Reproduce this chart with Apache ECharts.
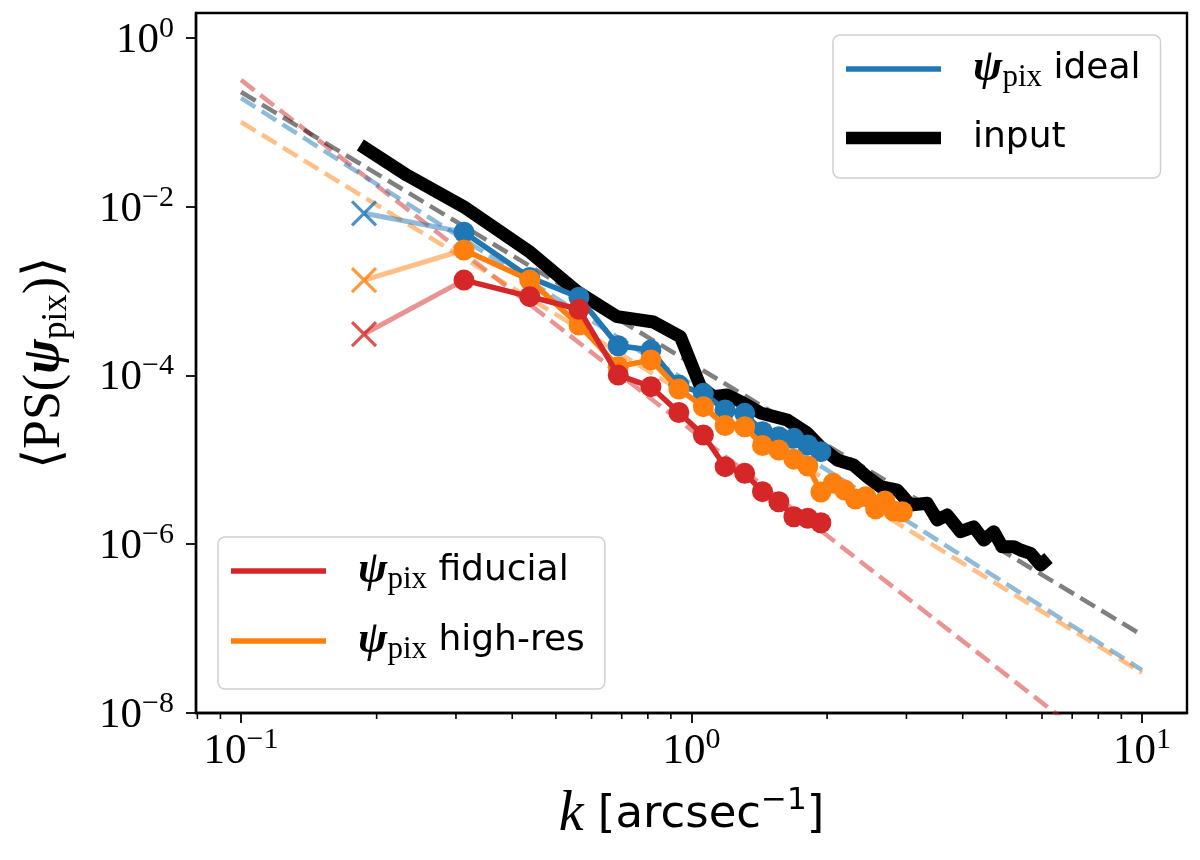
<!DOCTYPE html>
<html><head><meta charset="utf-8">
<script src="https://cdn.jsdelivr.net/npm/echarts@6/dist/echarts.min.js"></script>
<style>html,body{margin:0;padding:0;background:#fff}#c{width:1200px;height:860px}</style>
</head><body><div id="c"></div>
<script>
// ---- data ----
const kFirst = 0.1875;
const kBins = [0.3125, 0.4375, 0.5625, 0.6875, 0.8125, 0.9375, 1.0625, 1.1875, 1.3125, 1.4375, 1.5625, 1.6875, 1.8125, 1.9375];
const kHighres = [0.3125, 0.4375, 0.5625, 0.6875, 0.8125, 0.9375, 1.0625, 1.1875, 1.3125, 1.4375, 1.5625, 1.6875, 1.8125, 1.9375,
                  2.0625, 2.1875, 2.3125, 2.4375, 2.5625, 2.6875, 2.8125, 2.9375];
const psIdeal = [4.98e-3, 1.45e-3, 8.45e-4, 2.25e-4, 2.0e-4, 7.7e-5, 6.15e-5, 3.9e-5, 3.56e-5, 2.16e-5, 1.88e-5, 1.80e-5, 1.5e-5, 1.25e-5];
const psFiducial = [1.35e-3, 8.59e-4, 6.09e-4, 1.01e-4, 7.37e-5, 3.64e-5, 1.97e-5, 8.3e-6, 6.93e-6, 4.2e-6, 3.19e-6, 2.12e-6, 2.03e-6, 1.8e-6];
const psHighres = [3.07e-3, 1.35e-3, 3.97e-4, 1.27e-4, 1.53e-4, 6.9e-5, 4.27e-5, 2.55e-5, 2.47e-5, 1.48e-5, 1.31e-5, 1.02e-5, 8.45e-6, 4.16e-6,
                   5.27e-6, 4.39e-6, 3.44e-6, 3.66e-6, 2.62e-6, 3.26e-6, 2.48e-6, 2.43e-6];
const psFirstIdeal = 8.36e-3;
const psFirstHighres = 1.35e-3;
const psFirstFiducial = 3.1e-4;
const inputK = [0.184, 0.234, 0.312, 0.439, 0.557, 0.684, 0.823, 0.945, 1.047, 1.119, 1.200, 1.304, 1.423, 1.631, 1.806, 1.933,
                2.106, 2.289, 2.455, 2.628, 2.862, 3.063, 3.336, 3.511, 3.695, 3.955, 4.233, 4.455, 4.688, 4.895, 5.193, 5.374, 5.655, 5.953, 6.202];
const inputPS = [0.054, 0.0235, 0.010, 2.87e-3, 9.9e-4, 4.98e-4, 4.31e-4, 2.88e-4, 7.37e-5, 5.6e-5, 5.87e-5, 4.72e-5, 3.6e-5, 2.97e-5, 2.08e-5, 1.43e-5,
                 9.97e-6, 8.7e-6, 6.3e-6, 4.81e-6, 4.39e-6, 2.92e-6, 3.06e-6, 1.94e-6, 2.22e-6, 1.41e-6, 1.61e-6, 1.12e-6, 1.41e-6, 9.35e-7, 9.35e-7, 8.55e-7, 7.81e-7, 5.68e-7, 6.87e-7];
const fitK = [0.1, 10];
const fitInput = [0.229, 8.4e-8];
const fitIdeal = [0.194, 3.23e-8];
const fitHighres = [0.101, 3.0e-8];
const fitFiducial = [0.318, 1.59e-9];
const xTickExponents = [-1, 0, 1];
const yTickExponents = [-8, -6, -4, -2, 0];
const xMinorTicks = [0.08, 0.09, 0.2, 0.3, 0.4, 0.5, 0.6, 0.7, 0.8, 0.9, 2, 3, 4, 5, 6, 7, 8, 9];

// ---- styling ----
const SERIF = 'Liberation Serif';
const SANS = 'DejaVu Sans';
const BLUE = '#1f77b4', ORANGE = '#ff7f0e', RED = '#d62728';
const X_MIN = Math.pow(10, -1.1), X_MAX = Math.pow(10, 1.1);
const Y_MIN = 1e-8, Y_MAX = Math.pow(10, 0.296);

const zip = (xs, ys) => xs.map((x, i) => [x, ys[i]]);
const expLabel = (allowed) => (v) => {
  const e = Math.log10(v), n = Math.round(e);
  if (Math.abs(e - n) > 1e-6 || allowed.indexOf(n) < 0) return '';
  return '{b|10}{s|' + String(n).replace('-', '\u2212') + '}';
};
const tickRich = {
  b: {fontFamily: SERIF, fontSize: 43, color: '#000', lineHeight: 48, verticalAlign: 'bottom'},
  s: {fontFamily: SERIF, fontSize: 30, color: '#000', lineHeight: 28, verticalAlign: 'top'}
};
const legendRich = {
  g: {width: 27},
  psi: {fontFamily: SERIF, fontSize: 44, fontStyle: 'italic', fontWeight: 'bold', color: '#000', lineHeight: 48},
  sub: {fontFamily: SERIF, fontSize: 31, color: '#000', lineHeight: 18, verticalAlign: 'bottom'},
  t: {fontFamily: SANS, fontSize: 36, color: '#000', lineHeight: 48}
};
const legendFmt = (name) => name === 'input' ? '{g| }{t|input}' : '{g| }{psi|\u03c8}{sub|pix}{t| ' + name + '}';
const THIN = 'path://M0,0H100V6H0Z';
const THICK = 'path://M0,0H100V13H0Z';
const legendBase = {
  orient: 'vertical', itemWidth: 95, itemHeight: 13, itemGap: 22, selectedMode: false,
  backgroundColor: 'rgba(255,255,255,0.8)', borderColor: '#d0d0d0', borderWidth: 1.5, borderRadius: 7,
  padding: [10, 18, 22, 13], formatter: legendFmt,
  textStyle: {rich: legendRich, fontFamily: SANS, fontSize: 36, color: '#000'}
};

const fitLine = (data, color, opacity) => ({
  type: 'line', data: zip(fitK, data), showSymbol: false, symbol: 'none', silent: true, z: 1,
  lineStyle: {color: color, opacity: opacity, width: 4.5, type: [17, 7.5]}
});
const connector = (y0, y1, color) => ({
  type: 'line', data: [[kFirst, y0], [kBins[0], y1]], symbol: 'none', silent: true, z: 3,
  lineStyle: {color: color, opacity: 0.5, width: 5}
});
const cross = (y, color) => ({
  type: 'scatter', data: [[kFirst, y]], symbol: 'path://M0,0L10,10M10,0L0,10', symbolSize: 24, silent: true, z: 4,
  itemStyle: {color: 'rgba(0,0,0,0)', borderColor: color, borderWidth: 3.2}
});
const circles = (name, ks, ps, color, z) => ({
  name: name, type: 'line', data: zip(ks, ps), symbol: 'circle', symbolSize: 21, showAllSymbol: true, silent: true, z: z,
  lineStyle: {color: color, width: 5.5}, itemStyle: {color: color, borderWidth: 0}
});

const chart = echarts.init(document.getElementById('c'), null, {renderer: 'canvas'});
chart.setOption({
  animation: false,
  backgroundColor: '#fff',
  grid: {left: 196, right: 13, top: 13, bottom: 147, show: true, borderColor: '#000', borderWidth: 2.4, backgroundColor: 'transparent'},
  xAxis: {
    type: 'log', logBase: 10, min: X_MIN, max: X_MAX,
    axisLine: {show: true, lineStyle: {color: '#000', width: 2.4}},
    axisTick: {show: true, length: 10, lineStyle: {color: '#000', width: 1.8}},
    splitLine: {show: false}, minorTick: {show: false},
    axisLabel: {formatter: expLabel(xTickExponents), rich: tickRich, margin: 12, showMinLabel: false, showMaxLabel: false},
    name: '{i|k}{t| [arcsec}{s|\u22121}{t|]}', nameLocation: 'middle', nameGap: 72,
    nameTextStyle: {rich: {
      i: {fontFamily: SERIF, fontStyle: 'italic', fontSize: 56, color: '#000', lineHeight: 60},
      t: {fontFamily: SANS, fontSize: 45, color: '#000', lineHeight: 60},
      s: {fontFamily: SANS, fontSize: 31, color: '#000', lineHeight: 32, verticalAlign: 'top'}
    }}
  },
  yAxis: {
    type: 'log', logBase: 100, min: Y_MIN, max: Y_MAX,
    axisLine: {show: true, lineStyle: {color: '#000', width: 2.4}},
    axisTick: {show: true, length: 10, lineStyle: {color: '#000', width: 1.8}},
    splitLine: {show: false},
    axisLabel: {formatter: expLabel(yTickExponents), rich: tickRich, margin: 22, showMinLabel: true, showMaxLabel: false},
    name: '{t|\u27e8PS(}{psi|\u03c8}{sub|pix}{t|)\u27e9}', nameLocation: 'middle', nameGap: 122, nameRotate: 90,
    nameTextStyle: {rich: {
      t: {fontFamily: SERIF, fontSize: 52, color: '#000', lineHeight: 58},
      psi: {fontFamily: SERIF, fontStyle: 'italic', fontWeight: 'bold', fontSize: 52, color: '#000', lineHeight: 58},
      sub: {fontFamily: SERIF, fontSize: 35, color: '#000', lineHeight: 20, verticalAlign: 'bottom'}
    }}
  },
  legend: [
    Object.assign({}, legendBase, {left: 833, top: 35, itemGap: 27, padding: [12, 20, 22, 13], data: [
      {name: 'ideal', icon: THIN, itemStyle: {color: BLUE}},
      {name: 'input', icon: THICK, itemStyle: {color: '#000'}}
    ]}),
    Object.assign({}, legendBase, {left: 218, top: 537, itemGap: 24, padding: [12, 20, 24, 13], data: [
      {name: 'fiducial', icon: THIN, itemStyle: {color: RED}},
      {name: 'high-res', icon: THIN, itemStyle: {color: ORANGE}}
    ]})
  ],
  series: [
    fitLine(fitFiducial, RED, 0.5),
    fitLine(fitIdeal, BLUE, 0.5),
    fitLine(fitHighres, ORANGE, 0.5),
    fitLine(fitInput, '#000', 0.5),
    {name: 'input', type: 'line', data: zip(inputK, inputPS), symbol: 'none', silent: true, z: 2,
     lineStyle: {color: '#000', width: 13, cap: 'butt', join: 'round'}, itemStyle: {color: '#000'}},
    connector(psFirstIdeal, psIdeal[0], BLUE),
    cross(psFirstIdeal, BLUE),
    circles('ideal', kBins, psIdeal, BLUE, 5),
    connector(psFirstHighres, psHighres[0], ORANGE),
    cross(psFirstHighres, ORANGE),
    circles('high-res', kHighres, psHighres, ORANGE, 6),
    connector(psFirstFiducial, psFiducial[0], RED),
    cross(psFirstFiducial, RED),
    circles('fiducial', kBins, psFiducial, RED, 7),
    {type: 'custom', silent: true, clip: false, z: 10, data: xMinorTicks.map(v => [v, Y_MIN]),
     renderItem: (params, api) => {
       const p = api.coord([api.value(0), Y_MIN]);
       return {type: 'line', shape: {x1: p[0], y1: p[1], x2: p[0], y2: p[1] + 6}, style: {stroke: '#000', lineWidth: 1.6}};
     }}
  ]
});
</script></body></html>
